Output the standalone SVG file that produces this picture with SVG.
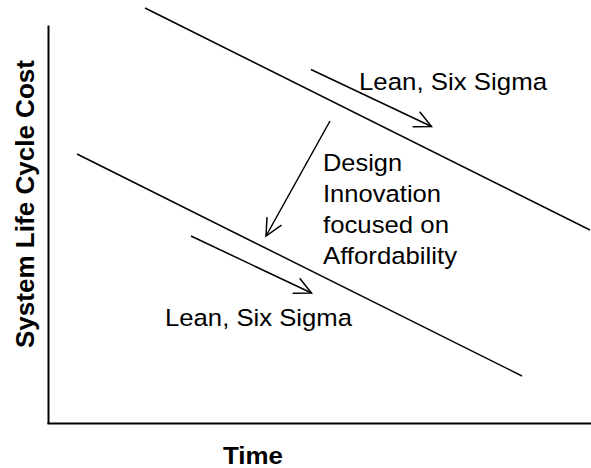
<svg xmlns="http://www.w3.org/2000/svg" width="591" height="468" viewBox="0 0 591 468">
  <style>
    .ln { stroke: #000; stroke-width: 1.5; fill: none; }
    .ax { stroke: #000; stroke-width: 2; fill: none; }
    .arr { stroke: #000; stroke-width: 1.5; fill: none; marker-end: url(#vhead); }
    .t { font-family: "Liberation Sans", Arial, sans-serif; font-size: 24.5px; fill: #000; }
    .b { font-family: "Liberation Sans", Arial, sans-serif; font-weight: bold; fill: #000; }
  </style>
  <defs>
    <marker id="vhead" markerUnits="userSpaceOnUse" markerWidth="30" markerHeight="30" refX="0" refY="0" viewBox="-25 -15 30 30" orient="auto" overflow="visible">
      <path d="M-17,-8.3 L0,0 L-17,8.3" stroke="#000" stroke-width="1.5" fill="none"/>
    </marker>
  </defs>
  <g id="axes">
    <line class="ax" x1="48.5" y1="25.5" x2="48.5" y2="424"/>
    <line class="ax" x1="47.5" y1="423.5" x2="591" y2="423.5"/>
  </g>
  <g id="cost-lines">
    <line class="ln" x1="145" y1="8" x2="590" y2="230"/>
    <line class="ln" x1="77" y1="154" x2="522" y2="376"/>
  </g>
  <g id="connectors">
    <line class="arr" x1="311" y1="69.5" x2="431.5" y2="126.5"/>
    <line class="arr" x1="330" y1="121" x2="266" y2="236"/>
    <line class="arr" x1="191" y1="236" x2="311.5" y2="293"/>
  </g>
  <g id="label-lean-top">
    <text class="t" x="359" y="89.5" textLength="188" lengthAdjust="spacingAndGlyphs">Lean, Six Sigma</text>
  </g>
  <g id="label-design">
    <text class="t" x="323" y="171" textLength="79" lengthAdjust="spacingAndGlyphs">Design</text>
    <text class="t" x="323" y="201.7" textLength="118" lengthAdjust="spacingAndGlyphs">Innovation</text>
    <text class="t" x="323" y="232.7" textLength="126" lengthAdjust="spacingAndGlyphs">focused on</text>
    <text class="t" x="323" y="263.5" textLength="134" lengthAdjust="spacingAndGlyphs">Affordability</text>
  </g>
  <g id="label-lean-bottom">
    <text class="t" x="165" y="326" textLength="187" lengthAdjust="spacingAndGlyphs">Lean, Six Sigma</text>
  </g>
  <g id="label-time">
    <text class="b" x="223" y="464" font-size="24.5" textLength="60" lengthAdjust="spacingAndGlyphs">Time</text>
  </g>
  <g id="label-cost">
    <text class="b" transform="translate(33.5,348) rotate(-90)" font-size="25.5" textLength="288" lengthAdjust="spacingAndGlyphs">System Life Cycle Cost</text>
  </g>
</svg>
